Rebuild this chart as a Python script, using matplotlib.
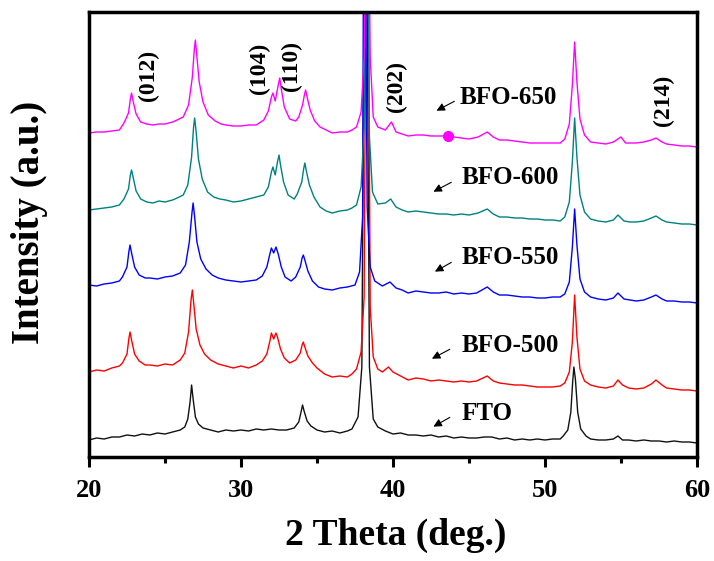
import matplotlib
matplotlib.use("Agg")
import matplotlib.pyplot as plt
from matplotlib.ticker import MultipleLocator

plt.rcParams["font.family"] = ["Liberation Serif", "DejaVu Serif"]
plt.rcParams["font.weight"] = "bold"

# ---- data: (2theta in deg, stacked intensity in a.u.)
fto = [(20, 17), (20.5, 19), (21, 18), (21.5, 20), (22, 20), (22.5, 22), (23, 21), (23.5, 23),
       (24, 22), (24.5, 24), (25, 23), (25.5, 25), (26.0, 27), (26.3, 30), (26.5, 38),
       (26.65, 55), (26.75, 72), (26.85, 58), (27.0, 40), (27.2, 33), (27.5, 29), (28, 27),
       (28.5, 25), (29, 27), (29.5, 26), (30, 27), (30.5, 26), (31, 28), (31.5, 27), (32, 28),
       (32.5, 27), (33, 27), (33.5, 29), (33.8, 35), (33.95, 45), (34.05, 52), (34.15, 46),
       (34.35, 36), (34.6, 31), (35, 27), (35.5, 25), (36, 26), (36.5, 24), (37, 26),
       (37.3, 28), (37.7, 40), (37.95, 90), (38.2, 700), (38.45, 90), (38.7, 38), (39, 30),
       (39.5, 26), (40, 23), (40.5, 24), (41, 22), (41.5, 22), (42, 21), (42.5, 22), (43, 20),
       (43.5, 21), (44, 19), (44.5, 20), (45, 19), (45.5, 19), (46, 20), (46.5, 20), (47, 18),
       (47.5, 19), (48, 17), (48.5, 18), (49, 17), (49.5, 18), (50, 17), (50.5, 18), (51, 18),
       (51.2, 21), (51.5, 27), (51.7, 45), (51.82, 75), (51.9, 90), (52.0, 78), (52.15, 45),
       (52.35, 28), (52.7, 21), (53, 18), (53.5, 17), (54, 17), (54.5, 18), (54.8, 21),
       (55.1, 17), (55.5, 17), (56, 16), (56.5, 17), (57, 16), (57.5, 16), (58, 15),
       (58.5, 16), (59, 15), (59.5, 15), (60, 14)]

bfo500 = [(20, 85), (20.5, 87), (21, 86), (21.5, 89), (22, 91), (22.2, 94), (22.5, 103),
          (22.62, 118), (22.7, 125), (22.8, 117), (23.0, 103), (23.3, 96), (23.7, 92), (24, 92),
          (24.5, 91), (25, 93), (25.5, 92), (26.0, 97), (26.3, 104), (26.55, 125), (26.72, 158),
          (26.8, 167), (26.9, 152), (27.05, 128), (27.3, 112), (27.6, 103), (28, 97), (28.5, 93),
          (29, 91), (29.5, 89), (30, 91), (30.5, 89), (31, 92), (31.4, 96), (31.7, 103),
          (31.9, 116), (32.0, 124), (32.15, 118), (32.3, 124), (32.4, 120), (32.6, 108),
          (32.85, 99), (33.2, 94), (33.6, 97), (33.9, 104), (34.02, 112), (34.1, 115),
          (34.2, 110), (34.4, 101), (34.7, 94), (35, 89), (35.5, 83), (36, 80), (36.5, 81),
          (37, 80), (37.3, 83), (37.6, 88), (37.9, 105), (38.1, 160), (38.3, 700), (38.5, 150),
          (38.7, 100), (39, 88), (39.3, 85), (39.7, 90), (40, 85), (40.5, 81), (41, 77),
          (41.5, 79), (42, 78), (42.5, 76), (43, 77), (43.5, 76), (44, 75), (44.5, 76), (45, 75),
          (45.5, 76), (46.2, 81), (46.6, 76), (47, 74), (47.5, 73), (48, 72), (48.5, 72),
          (49, 71), (49.5, 70), (50, 70), (50.5, 70), (51, 71), (51.3, 74), (51.6, 85),
          (51.8, 115), (51.95, 162), (52.1, 120), (52.3, 88), (52.6, 76), (53, 72), (53.5, 70),
          (54, 69), (54.5, 71), (54.8, 77), (55.1, 72), (55.5, 69), (56, 68), (56.5, 69),
          (57, 73), (57.3, 77), (57.7, 72), (58, 69), (58.5, 68), (59, 67), (59.5, 67), (60, 66)]

bfo550 = [(20, 172), (20.5, 171), (21, 173), (21.5, 174), (22, 176), (22.2, 180), (22.5, 190),
          (22.62, 205), (22.7, 212), (22.8, 204), (23.0, 190), (23.3, 182), (23.7, 179),
          (24, 179), (24.5, 178), (25, 180), (25.5, 181), (26.0, 184), (26.35, 192), (26.6, 215),
          (26.78, 245), (26.85, 254), (26.95, 240), (27.1, 215), (27.35, 198), (27.7, 188),
          (28.1, 182), (28.5, 179), (29, 177), (29.5, 176), (30, 175), (30.5, 176), (31, 177),
          (31.4, 181), (31.7, 190), (31.9, 203), (32.0, 209), (32.15, 204), (32.3, 210),
          (32.45, 203), (32.65, 190), (32.9, 180), (33.3, 176), (33.6, 180), (33.9, 190),
          (34.02, 199), (34.1, 202), (34.2, 197), (34.4, 186), (34.7, 176), (35.1, 170),
          (35.5, 168), (36, 167), (36.5, 169), (37, 170), (37.5, 172), (37.8, 185), (38.0, 240),
          (38.1, 700), (38.3, 250), (38.5, 190), (38.8, 176), (39.3, 171), (39.8, 175),
          (40.2, 169), (40.6, 167), (41, 164), (41.5, 166), (42, 165), (42.5, 164), (43, 164),
          (43.5, 165), (44, 163), (44.5, 164), (45, 163), (45.5, 164), (46.2, 170), (46.6, 165),
          (47, 162), (47.5, 162), (48, 161), (48.5, 160), (49, 160), (49.5, 159), (50, 159),
          (50.5, 160), (51, 160), (51.3, 163), (51.6, 175), (51.8, 210), (51.95, 248),
          (52.1, 212), (52.3, 178), (52.6, 165), (53, 160), (53.5, 158), (54, 157), (54.5, 159),
          (54.8, 164), (55.2, 158), (55.6, 157), (56, 156), (56.5, 157), (57, 160), (57.3, 162),
          (57.7, 158), (58, 156), (58.5, 156), (59, 155), (59.5, 155), (60, 154)]

bfo600 = [(20, 247), (20.5, 248), (21, 249), (21.5, 250), (22, 252), (22.3, 258), (22.6, 268),
          (22.72, 282), (22.8, 287), (22.9, 280), (23.1, 266), (23.4, 258), (23.8, 255),
          (24.2, 254), (24.6, 256), (25, 255), (25.5, 257), (25.8, 259), (26.2, 262), (26.5, 272),
          (26.75, 300), (26.88, 330), (26.95, 339), (27.05, 325), (27.2, 298), (27.45, 278),
          (27.8, 265), (28.2, 260), (28.6, 258), (29, 257), (29.5, 255), (30, 256), (30.5, 258),
          (31, 260), (31.5, 262), (31.8, 270), (32.0, 285), (32.1, 290), (32.25, 282),
          (32.4, 295), (32.5, 302), (32.6, 292), (32.8, 275), (33.1, 262), (33.5, 258),
          (33.7, 263), (34.0, 275), (34.12, 288), (34.2, 294), (34.3, 286), (34.5, 272),
          (34.8, 260), (35.2, 250), (35.6, 246), (36, 244), (36.5, 246), (37, 247), (37.3, 249),
          (37.6, 252), (37.9, 270), (38.1, 330), (38.25, 700), (38.45, 320), (38.65, 265),
          (39, 253), (39.5, 254), (39.85, 258), (40.2, 250), (40.6, 247), (41, 245), (41.5, 246),
          (42, 245), (42.5, 244), (43, 243), (43.5, 243), (44, 242), (44.5, 243), (45, 242),
          (45.6, 244), (46.2, 248), (46.6, 243), (47, 240), (47.5, 240), (48, 239), (48.5, 239),
          (49, 238), (49.5, 238), (50, 237), (50.5, 237), (51, 236), (51.3, 240), (51.6, 255),
          (51.8, 295), (51.95, 339), (52.1, 300), (52.3, 262), (52.6, 245), (53, 238),
          (53.5, 236), (54, 235), (54.5, 237), (54.8, 242), (55.2, 236), (55.6, 235), (56, 235),
          (56.5, 236), (57, 239), (57.3, 241), (57.7, 237), (58, 235), (58.5, 234), (59, 233),
          (59.5, 233), (60, 232)]

bfo650 = [(20, 324), (20.5, 325), (21, 325), (21.5, 326), (22, 327), (22.3, 334), (22.6, 344),
          (22.72, 358), (22.8, 364), (22.9, 356), (23.1, 343), (23.4, 335), (23.8, 333),
          (24.2, 332), (24.6, 333), (25, 333), (25.5, 335), (25.8, 337), (26.2, 340),
          (26.55, 352), (26.8, 380), (26.93, 408), (27.0, 417), (27.1, 400), (27.25, 375),
          (27.5, 355), (27.85, 342), (28.3, 336), (28.7, 333), (29, 332), (29.5, 331), (30, 331),
          (30.5, 332), (31, 332), (31.5, 337), (31.8, 346), (32.0, 360), (32.1, 364),
          (32.25, 356), (32.45, 372), (32.55, 379), (32.65, 368), (32.85, 350), (33.2, 338),
          (33.6, 336), (33.8, 340), (34.05, 352), (34.17, 362), (34.25, 367), (34.35, 360),
          (34.55, 347), (34.85, 336), (35.2, 330), (35.6, 327), (36, 324), (36.5, 325), (37, 325),
          (37.3, 327), (37.6, 330), (37.9, 345), (38.1, 400), (38.3, 700), (38.5, 400),
          (38.7, 340), (39, 330), (39.5, 327), (39.9, 335), (40.2, 325), (40.6, 323), (41, 321),
          (41.5, 322), (42, 322), (42.5, 321), (43, 321), (43.5, 321), (44, 320), (44.5, 319),
          (45, 318), (45.6, 320), (46.2, 325), (46.6, 320), (47, 317), (47.5, 317), (48, 316),
          (48.5, 315), (49, 314), (49.5, 314), (50, 314), (50.5, 314), (51, 314), (51.3, 318),
          (51.6, 333), (51.8, 372), (51.95, 415), (52.1, 375), (52.3, 338), (52.6, 322),
          (53, 315), (53.5, 314), (54, 313), (54.5, 315), (55, 320), (55.3, 314), (55.7, 314),
          (56, 314), (56.5, 315), (57, 317), (57.3, 319), (57.7, 315), (58, 313), (58.5, 312),
          (59, 311), (59.5, 311), (60, 310)]

impurity_x = [43.6]
impurity_y = [321]

names = ["FTO", "BFO-500", "BFO-550", "BFO-600", "BFO-650"]
colors = ["#111111", "#ff0000", "#0000ff", "#008080", "#ff00ff"]
series = [fto, bfo500, bfo550, bfo600, bfo650]

planes = ["(012)", "(104)", "(110)", "(202)", "(214)"]
plane_pos = [(23.9, 382), (31.2, 389), (33.3, 391), (40.2, 370), (57.8, 357)]

# label text anchor, arrow tail, arrow head
label_pos = [(44.5, 44), (44.5, 112), (44.5, 199), (44.5, 279), (44.4, 359)]
arrow_tail = [(43.9, 41), (43.9, 109), (44.0, 196), (44.0, 276), (44.2, 357)]
arrow_head = [(42.5, 29), (42.4, 97), (42.6, 184), (42.5, 264), (42.7, 345)]

fig = plt.figure(figsize=(7.14, 5.61), dpi=100)
ax = fig.add_axes([89/714, 1-457/561, 608/714, 445/561])

for pts, c in zip(series, colors):
    x, y = zip(*pts)
    ax.plot(x, y, color=c, lw=1.0)
ax.plot(impurity_x, impurity_y, "o", color="#ff00ff", ms=7)

for s, (px, py) in zip(planes, plane_pos):
    ax.text(px, py, s, rotation=90, ha="center", va="center", fontsize=17, fontweight="bold")

for s, (lx, ly), tl, hd in zip(names, label_pos, arrow_tail, arrow_head):
    ax.text(lx, ly, s, ha="left", va="center", fontsize=18, fontweight="bold")
    ax.annotate("", xy=hd, xytext=tl,
                arrowprops=dict(arrowstyle="-|>", color="black", lw=0.8,
                                mutation_scale=12))

ax.set_xlim(20, 60)
ax.set_ylim(0, 445)
ax.xaxis.set_major_locator(MultipleLocator(10))
ax.xaxis.set_minor_locator(MultipleLocator(5))
ax.tick_params(axis="x", which="major", direction="out", length=7, width=2.2,
               labelsize=19, pad=9)
ax.tick_params(axis="x", which="minor", direction="out", length=4, width=2.2)
ax.tick_params(axis="y", left=False, labelleft=False)
ax.tick_params(top=False, right=False)
for lbl in ax.get_xticklabels():
    lbl.set_fontweight("bold")
for sp in ax.spines.values():
    sp.set_linewidth(2.5)

fig.text(396/714, 1-535/561, "2 Theta (deg.)", ha="center", va="center",
         fontsize=27, fontweight="bold")
fig.text(30/714, 1-222/561, "Intensity (a.u.)", ha="center", va="center",
         rotation=90, fontsize=28, fontweight="bold")

fig.savefig("out.png", dpi=100, facecolor="white")
